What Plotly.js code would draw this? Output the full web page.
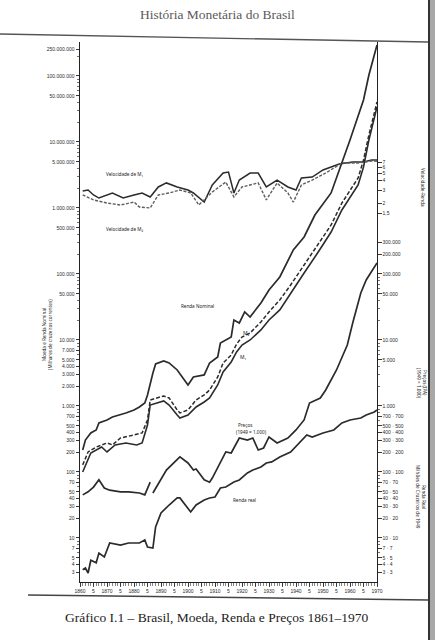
<!DOCTYPE html>
<html><head><meta charset="utf-8">
<script src="https://cdn.plot.ly/plotly-3.0.1.min.js"></script>
<style>html,body{margin:0;padding:0;background:#fff;}#chart{width:435px;height:640px;}</style>
</head><body><div id="chart"></div>
<script>
// ---------------- data ----------------
const rnYears = [1861,1862,1864,1866,1867,1870,1872,1875,1877,1880,1882,1884,1885,1887,1888,1891,1893,1896,1898,1900,1902,1906,1908,1911,1912,1916,1917,1919,1921,1923,1927,1930,1934,1937,1939,1943,1947,1953,1957,1960,1965,1967,1970];
const rnValues = [215,305,390,433,553,614,681,731,783,870,966,1110,1468,3162,4329,4806,4484,3511,2750,2081,2750,2951,4484,5525,9010,11100,20100,18100,26600,22300,36400,57200,90100,163000,231000,364000,783000,1690000,4810000,10700000,43300000,103500000,295000000];

const m2Years = [1861,1863,1866,1870,1872,1875,1880,1883,1885,1886,1891,1893,1896,1897,1900,1903,1906,1908,1911,1913,1916,1918,1920,1923,1927,1930,1934,1938,1943,1948,1953,1957,1963,1965,1967,1970];
const m2Values = [128,201,239,275,257,327,364,390,614,1233,1418,1322,870,783,870,1233,1468,1747,2750,4484,5929,8697,11100,12770,18750,26560,40370,68100,136900,275000,552600,1191000,2850000,5335000,12770000,40370000];

const m1Years = [1861,1864,1868,1870,1873,1877,1881,1883,1885,1886,1891,1893,1896,1897,1900,1903,1906,1908,1911,1913,1916,1918,1920,1923,1927,1930,1934,1938,1943,1948,1953,1957,1963,1965,1967,1970];
const m1Values = [100,194,239,201,257,275,257,275,515,1035,1191,1035,731,658,731,966,1150,1322,2081,3275,4642,6580,8400,10000,14190,20100,28500,51550,103500,208000,432600,933000,2230000,4180000,10720000,33900000];

const pricesOldYears = [1861,1863,1865,1867,1869,1871,1875,1878,1882,1884,1886];
const pricesOldValues = [45,50,59,76,57,53,50,50,48,45,70];
const pricesNewYears = [1887,1892,1897,1900,1902,1903,1906,1908,1909,1912,1914,1916,1919,1922,1924,1926,1928,1930,1933,1937,1940,1943,1945,1949,1951,1955,1959,1961,1964,1966,1970];
const pricesNewValues = [48,107,169,137,107,111,76,70,81,137,201,194,327,305,327,215,231,339,275,327,433,614,1110,1322,1747,3511,8400,18100,51550,81100,146800];

const realYears = [1861,1862,1863,1864,1866,1867,1869,1871,1875,1878,1882,1884,1885,1887,1888,1890,1893,1896,1897,1899,1901,1903,1906,1908,1910,1912,1914,1917,1919,1922,1924,1927,1929,1931,1934,1938,1941,1944,1946,1950,1954,1957,1960,1964,1966,1969,1970];
const realValues = [3.3,3.5,2.95,4.6,4.2,5.9,5.15,8.4,7.8,8.4,8.4,9.3,7.3,7.05,14.7,23.9,31.6,40.4,40.4,31.6,24.8,31.6,37.6,40.4,41.8,57.2,59.3,70.5,75.7,96.6,107,119,137,142,169,201,275,364,339,390,433,553,614,658,731,811,870];

const v1Years = [1861,1863,1865,1867,1872,1876,1880,1883,1886,1889,1892,1896,1900,1902,1906,1909,1913,1915,1917,1919,1923,1926,1929,1933,1937,1940,1942,1946,1950,1956,1961,1965,1968,1970];
const v1Values = [2.92,3.01,2.59,2.36,2.75,2.36,2.59,2.75,2.44,3.30,3.73,3.30,3.01,2.75,2.09,3.50,5.04,5.19,2.75,4.07,5.04,5.04,3.30,4.07,3.30,3.01,4.33,4.46,5.53,6.62,7.04,7.04,7.48,7.48];

const v2Years = [1861,1865,1870,1875,1880,1882,1886,1889,1893,1897,1901,1904,1909,1914,1917,1920,1926,1929,1933,1937,1939,1942,1946,1951,1957,1963,1968,1970];
const v2Values = [2.59,2.23,2.03,1.91,2.09,1.80,1.75,2.59,2.75,3.01,2.75,1.91,2.84,3.83,2.44,3.30,3.73,2.23,3.73,2.75,2.09,3.50,4.07,5.04,6.81,6.81,7.25,7.2];

// tick labels
const xTickYears = [1860,1865,1870,1875,1880,1885,1890,1895,1900,1905,1910,1915,1920,1925,1930,1935,1940,1945,1950,1955,1960,1965,1970];
const xTickText = ['1860','5','1870','5','1880','5','1890','5','1900','5','1910','5','1920','5','1930','5','1940','5','1950','5','1960','5','1970'];
const leftLabelVals = [3,4,5,7,10,20,30,40,50,70,100,200,300,400,500,700,1000,2000,3000,4000,5000,7000,10000,50000,100000,500000,1000000,5000000,10000000,50000000,100000000,250000000];
const rightLabelVals = [3,4,5,7,10,20,30,40,50,70,100,200,300,400,500,700,1000,5000,10000,50000,100000,200000,300000];
const velLabelVals = [1.5,2,3,4,5,6,7];
const velLabelText = ['1,5','2','3','4','5','6','7'];

// ---------------- helpers ----------------
function fmt(v){ return String(v).replace(/\B(?=(\d{3})+(?!\d))/g, '.'); }
function buildTicks(maxV, extra, labelVals, textFn){
  const vals = [], text = [], minor = [];
  const all = [];
  for (let d = 0; d <= 8; d++) for (let m = 1; m <= 9; m++){
    const v = m * Math.pow(10, d);
    if (v <= maxV) all.push(v);
  }
  extra.forEach(v => all.push(v));
  all.forEach(v => {
    if (labelVals.includes(v)) { vals.push(v); text.push(textFn(v)); }
    else minor.push(v);
  });
  return {vals, text, minor};
}
const leftT = buildTicks(2e8, [2.5e8], leftLabelVals, fmt);
const rightT = buildTicks(3e5, [], rightLabelVals, v => v < 1000 ? (v + ' \u00b7 ' + v) : fmt(v));

// plot geometry in px -> paper coords (for decorations/text only)
const L = 80, R = 377, T = 42, B = 582;
const px = p => (p - L) / (R - L);
const py = p => (B - p) / (B - T);

const ink = '#2b2b2b';
const tickFont = {family: 'Liberation Sans, Arial, sans-serif', size: 5, color: '#2a2a2a'};

const traces = [
  {x: rnYears, y: rnValues, name: 'Renda Nominal', line: {color: ink, width: 1.7}},
  {x: m2Years, y: m2Values, name: 'M2', line: {color: ink, width: 1.5, dash: '4px,2px'}},
  {x: m1Years, y: m1Values, name: 'M1', line: {color: ink, width: 1.6}},
  {x: pricesOldYears, y: pricesOldValues, name: 'Preços', yaxis: 'y3', line: {color: ink, width: 1.7}},
  {x: pricesNewYears, y: pricesNewValues, name: 'Preços', yaxis: 'y3', line: {color: ink, width: 1.7}},
  {x: realYears, y: realValues, name: 'Renda real', yaxis: 'y3', line: {color: ink, width: 1.7}},
  {x: v1Years, y: v1Values, name: 'Velocidade de M1', yaxis: 'y2', line: {color: ink, width: 1.5}},
  {x: v2Years, y: v2Values, name: 'Velocidade de M2', yaxis: 'y2', line: {color: '#5e5e5e', width: 1.4, dash: '3px,1.5px'}}
].map(t => Object.assign({type: 'scatter', mode: 'lines', hoverinfo: 'skip'}, t));

function ann(text, x, y, opts){
  return Object.assign({text, xref: 'paper', yref: 'paper', x: px(x), y: py(y), showarrow: false,
    xanchor: 'center', yanchor: 'middle', font: {family: 'Noto Sans, DejaVu Sans, sans-serif', size: 4.6, color: '#222'}}, opts || {});
}

const annotations = [
  ann('História Monetária do Brasil', 217, 15, {font: {family: 'Liberation Serif, Times New Roman, serif', size: 13.5, color: '#5a5a5a'}}),
  ann('Gráfico I.1 – Brasil, Moeda, Renda e Preços 1861–1970', 217, 617, {font: {family: 'Liberation Serif, Times New Roman, serif', size: 13.5, color: '#222'}}),
  ann('Velocidade de M\u2081', 124, 174),
  ann('Velocidade de M\u2082', 124, 229),
  ann('Renda Nominal', 197, 306),
  ann('M\u2082', 246, 333, {font: {family: 'Noto Sans, DejaVu Sans, sans-serif', size: 5, color: '#222'}}),
  ann('M\u2081', 243, 357, {font: {family: 'Noto Sans, DejaVu Sans, sans-serif', size: 5, color: '#222'}}),
  ann('Preços', 245, 425),
  ann('(1949 = 1.000)', 251, 432),
  ann('Renda real', 244, 500),
  ann('Moeda e Renda Nominal', 44, 335, {textangle: -90}),
  ann('(Milhares de cruzeiros correntes)', 50, 335, {textangle: -90}),
  ann('Velocidade-Renda', 423, 187, {textangle: 90}),
  ann('Preços (IPA)', 425, 383, {textangle: 90}),
  ann('(1949 = 1.000)', 419, 383, {textangle: 90}),
  ann('Renda Real', 424, 497, {textangle: 90}),
  ann('Milhões de Cruzeiros de 1949', 418, 497, {textangle: 90})
];

const shapes = [
  {type: 'line', xref: 'paper', yref: 'paper', x0: px(0), y0: py(34), x1: px(428), y1: py(42), line: {color: '#555', width: 1.3}},
  {type: 'line', xref: 'paper', yref: 'paper', x0: px(28), y0: py(595), x1: px(428), y1: py(600), line: {color: '#444', width: 1.5}},
  {type: 'rect', xref: 'paper', yref: 'paper', x0: px(430), y0: py(0), x1: px(436), y1: py(640), fillcolor: '#a8a8a8', line: {width: 0}},
  {type: 'line', xref: 'paper', yref: 'paper', x0: px(429), y0: py(0), x1: px(429), y1: py(640), line: {color: '#333', width: 2}}
];

const yCommon = {type: 'log', tickmode: 'array', ticks: 'outside', ticklen: 3.5, tickwidth: 0.9, tickcolor: '#222',
  showgrid: false, zeroline: false, tickfont: tickFont};

const layout = {
  width: 435, height: 640,
  margin: {l: L, r: 435 - R, t: T, b: 640 - B},
  paper_bgcolor: '#ffffff', plot_bgcolor: '#ffffff',
  showlegend: false,
  xaxis: {range: [1860, 1970], tickmode: 'array', tickvals: xTickYears, ticktext: xTickText,
    ticks: 'outside', ticklen: 4, tickwidth: 0.8, tickcolor: '#222', showline: true, linecolor: '#222', linewidth: 1,
    showgrid: false, zeroline: false, tickfont: tickFont,
    minor: {ticks: 'outside', ticklen: 2.5, tickmode: 'linear', tick0: 1860, dtick: 1, tickcolor: '#333', tickwidth: 0.6, showgrid: false}},
  yaxis: Object.assign({}, yCommon, {range: [0.333, 8.515], tickvals: leftT.vals, ticktext: leftT.text,
    showline: true, linecolor: '#222', linewidth: 1,
    minor: {ticks: 'outside', tickmode: 'array', tickvals: leftT.minor, ticklen: 2, tickwidth: 0.7, tickcolor: '#333', showgrid: false}}),
  yaxis2: Object.assign({}, yCommon, {overlaying: 'y', side: 'right', range: [-4.679, 2.426],
    tickvals: velLabelVals, ticktext: velLabelText, showline: false}),
  yaxis3: Object.assign({}, yCommon, {overlaying: 'y', side: 'right', range: [0.333, 8.515],
    tickvals: rightT.vals, ticktext: rightT.text, showline: true, linecolor: '#222', linewidth: 1,
    minor: {ticks: 'outside', tickmode: 'array', tickvals: rightT.minor, ticklen: 2, tickwidth: 0.7, tickcolor: '#333', showgrid: false}}),
  annotations, shapes
};

Plotly.newPlot('chart', traces, layout, {staticPlot: true, displayModeBar: false});
</script>
</body></html>
